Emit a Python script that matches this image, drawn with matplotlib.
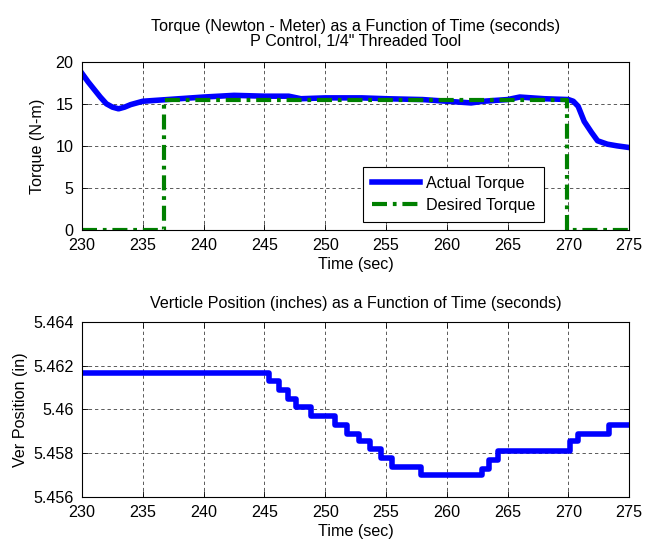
import matplotlib
matplotlib.use("Agg")
import matplotlib.pyplot as plt
from matplotlib.ticker import FuncFormatter

FS = 11.6
plt.rcParams['font.family'] = ['Liberation Sans', 'DejaVu Sans']
plt.rcParams['font.size'] = FS

# Measured torque (N-m) vs time (s)
torque_time = [230.0, 230.5, 231.0, 231.5, 232.0, 232.5, 233.0, 233.5, 234.0, 235.0,
               236.0, 237.0, 238.0, 240.0, 242.5, 245.0, 247.0, 248.0, 250.0, 253.0,
               255.0, 258.0, 260.0, 261.0, 262.0, 263.0, 265.0, 266.0, 268.0, 270.0,
               270.4, 270.8, 271.3, 271.9, 272.4, 273.2, 274.0, 275.0]
torque_actual = [18.6, 17.6, 16.7, 15.8, 15.0, 14.6, 14.4, 14.6, 14.9, 15.3,
                 15.4, 15.5, 15.6, 15.8, 16.0, 15.9, 15.9, 15.6, 15.7, 15.7,
                 15.6, 15.5, 15.3, 15.2, 15.1, 15.3, 15.5, 15.8, 15.6, 15.5,
                 15.3, 14.7, 12.9, 11.6, 10.6, 10.2, 10.0, 9.8]

# Commanded torque (N-m)
desired_time = [230.0, 236.7, 236.7, 269.9, 269.9, 275.0]
desired_torque = [0.0, 0.0, 15.5, 15.5, 0.0, 0.0]

# Vertical position (in), piecewise constant
pos_time = [230.0, 245.4, 246.2, 246.9, 247.6, 248.8, 250.8, 251.8, 252.8, 253.7,
            254.6, 255.5, 257.9, 262.9, 263.5, 264.2, 270.1, 270.8, 273.3, 275.0]
pos_value = [5.46168, 5.4613, 5.4609, 5.4605, 5.4601, 5.4597, 5.4593, 5.4589, 5.45855, 5.4582,
             5.4578, 5.4574, 5.4570, 5.4573, 5.4577, 5.4581, 5.45855, 5.4589, 5.4593, 5.4593]

x_ticks = [230, 235, 240, 245, 250, 255, 260, 265, 270, 275]
torque_ticks = [0, 5, 10, 15, 20]
pos_ticks = [5.456, 5.458, 5.460, 5.462, 5.464]

fig = plt.figure(figsize=(6.46, 5.43), dpi=100)
ax1 = fig.add_axes([0.127, 0.5764, 0.847, 0.31])
ax2 = fig.add_axes([0.127, 0.0842, 0.847, 0.3234])


def style_axes(ax):
    ax.set_xlim(230, 275)
    ax.set_xticks(x_ticks)
    ax.tick_params(direction='in', top=True, right=True, length=4, width=0.6,
                   labelsize=FS)
    ax.tick_params(axis='x', pad=5.5)
    ax.tick_params(axis='y', pad=6)
    ax.grid(True, color='black', linestyle=(0, (4, 3.5)), linewidth=0.6, alpha=0.75)
    ax.set_axisbelow(True)
    for s in ax.spines.values():
        s.set_linewidth(0.8)


ax1.plot(torque_time, torque_actual, color='#0000ff', linewidth=4, label='Actual Torque',
         solid_joinstyle='round')
ax1.plot(desired_time, desired_torque, color='#008000', linewidth=3,
         linestyle=(0, (3.6, 1.4, 0.9, 1.4)), label='Desired Torque')
style_axes(ax1)
ax1.set_ylim(0, 20)
ax1.set_yticks(torque_ticks)
ax1.set_xlabel('Time (sec)', labelpad=3)
ax1.set_ylabel('Torque (N-m)', labelpad=8)
ax1.set_title('Torque (Newton - Meter) as a Function of Time (seconds)\nP Control, 1/4" Threaded Tool',
              fontsize=FS, pad=11, linespacing=1.05)
leg = ax1.legend(loc='lower left', bbox_to_anchor=(0.513, 0.049),
                 fancybox=False, edgecolor='black', framealpha=1, handlelength=3.0,
                 handletextpad=0.35, borderaxespad=0, fontsize=FS, labelspacing=0.45,
                 borderpad=0.55)
leg.get_frame().set_linewidth(0.8)

ax2.step(pos_time, pos_value, where='post', color='#0000ff', linewidth=4)
style_axes(ax2)
ax2.set_ylim(5.456, 5.464)
ax2.set_yticks(pos_ticks)
ax2.yaxis.set_major_formatter(FuncFormatter(lambda v, p: '%g' % round(v, 3)))
ax2.set_xlabel('Time (sec)', labelpad=3)
ax2.set_ylabel('Ver Position (in)', labelpad=4)
ax2.set_title('Verticle Position (inches) as a Function of Time (seconds)', fontsize=FS, pad=10)

fig.savefig('out.png', dpi=100)
